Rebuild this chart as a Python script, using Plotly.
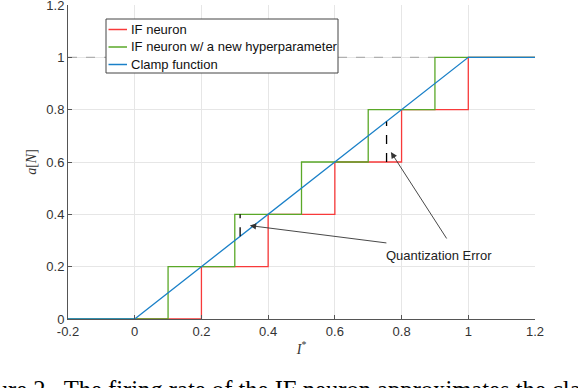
import plotly.graph_objects as go

# ---- data ----
if_x = [0, 0.2, 0.4, 0.6, 0.8, 1.0, 1.2]
if_y = [0, 0.2, 0.4, 0.6, 0.8, 1.0, 1.0]
hp_x = [-0.2, 0.1, 0.3, 0.5, 0.7, 0.9, 1.2]
hp_y = [0, 0.2, 0.4, 0.6, 0.8, 1.0, 1.0]
clamp_x = [-0.2, 0, 1, 1.2]
clamp_y = [0, 0, 1, 1]
ref_x = [-0.2, 0.9]
ref_y = [1, 1]
err1_x = [0.316, 0.316]
err1_y = [0.316, 0.4]
err2_x = [0.755, 0.755]
err2_y = [0.6, 0.755]
x_ticks = [-0.2, 0, 0.2, 0.4, 0.6, 0.8, 1.0, 1.2]
x_ticklabels = ["-0.2", "0", "0.2", "0.4", "0.6", "0.8", "1", "1.2"]
y_ticks = [0, 0.2, 0.4, 0.6, 0.8, 1.0, 1.2]
y_ticklabels = ["0", "0.2", "0.4", "0.6", "0.8", "1", "1.2"]
legend_names = ["IF neuron", "IF neuron w/ a new hyperparameter", "Clamp function"]

RED = "#F83A3A"
GREEN = "#5AA828"
BLUE = "#1A80C8"
colors = [RED, GREEN, BLUE]
SANS = "Liberation Sans, Arial, sans-serif"
SERIF = "Liberation Serif, Times New Roman, serif"

# plot-area geometry (pixels) used to place the hand-drawn legend box
L, R, T, B = 68, 535, 5, 319
W, H = R - L, B - T
def px(xp): return (xp - L) / W
def py(yp): return (B - yp) / H

fig = go.Figure()
fig.add_trace(go.Scatter(x=ref_x, y=ref_y, mode="lines", showlegend=False,
                         line=dict(color="#B0B0B0", width=1.2, dash="dash"), hoverinfo="skip"))
fig.add_trace(go.Scatter(x=if_x, y=if_y, mode="lines", name=legend_names[0], showlegend=False,
                         line=dict(color=RED, width=1.3, shape="hv")))
fig.add_trace(go.Scatter(x=hp_x, y=hp_y, mode="lines", name=legend_names[1], showlegend=False,
                         line=dict(color=GREEN, width=1.3, shape="hv")))
fig.add_trace(go.Scatter(x=clamp_x, y=clamp_y, mode="lines", name=legend_names[2], showlegend=False,
                         line=dict(color=BLUE, width=1.3)))
for ex, ey in [(err1_x, err1_y), (err2_x, err2_y)]:
    fig.add_trace(go.Scatter(x=ex, y=ey, mode="lines", showlegend=False,
                             line=dict(color="black", width=1.3, dash="dash"), hoverinfo="skip"))

arrow_common = dict(xref="x", yref="y", axref="x", ayref="y", text="", showarrow=True,
                    arrowhead=2, arrowsize=1.4, arrowwidth=0.9, arrowcolor="#333333")
fig.add_annotation(x=0.345, y=0.357, ax=0.759, ay=0.29, **arrow_common)
fig.add_annotation(x=0.768, y=0.638, ax=0.938, ay=0.302, **arrow_common)
fig.add_annotation(x=0.913, y=0.242, xref="x", yref="y", text="Quantization Error",
                   showarrow=False, font=dict(family=SANS, size=13, color="#222222"))

# legend (drawn by hand to match the compact box of the original)
fig.add_shape(type="rect", xref="paper", yref="paper",
              x0=px(106), x1=px(338), y0=py(73), y1=py(19),
              line=dict(color="#444444", width=1), fillcolor="white", layer="above")
row_y = [29.5, 47, 64.5]
for name, col, ry in zip(legend_names, colors, row_y):
    fig.add_shape(type="line", xref="paper", yref="paper",
                  x0=px(108.5), x1=px(127), y0=py(ry), y1=py(ry),
                  line=dict(color=col, width=1.5), layer="above")
    fig.add_annotation(x=px(129), y=py(ry), xref="paper", yref="paper",
                       xanchor="left", yanchor="middle", showarrow=False, text=name,
                       font=dict(family=SANS, size=13, color="#111111"))

# caption (cut off by the page edges in the reference)
fig.add_annotation(x=(-38 - L) / W, y=(B - 375) / H, xref="paper", yref="paper",
                   xanchor="left", yanchor="top", showarrow=False, borderpad=0,
                   text="Figure 2.  The firing rate of the IF neuron approximates the clamp function.",
                   font=dict(family=SERIF, size=24.6, color="black"))

fig.update_xaxes(range=[-0.2, 1.2], tickvals=x_ticks, ticktext=x_ticklabels,
                 showgrid=True, gridcolor="#E6E6E6", gridwidth=1, zeroline=False,
                 showline=True, linecolor="#555555", linewidth=1, automargin=False,
                 ticks="inside", ticklen=4, tickcolor="#555555", ticklabeloverflow="allow",
                 tickfont=dict(family=SANS, size=13, color="#333333"),
                 title=dict(text="<i>I</i><sup>*</sup>", font=dict(family=SERIF, size=14, color="#333333"),
                            standoff=6))
fig.update_yaxes(range=[0, 1.2], tickvals=y_ticks, ticktext=y_ticklabels,
                 showgrid=True, gridcolor="#E6E6E6", gridwidth=1, zeroline=False,
                 showline=True, linecolor="#555555", linewidth=1, automargin=False,
                 ticks="inside", ticklen=4, tickcolor="#555555", ticklabeloverflow="allow",
                 tickfont=dict(family=SANS, size=13, color="#333333"),
                 title=dict(text="<i>a</i>[<i>N</i>]", font=dict(family=SERIF, size=14, color="#333333"),
                            standoff=6))

fig.update_layout(
    width=578, height=388,
    margin=dict(l=L, r=578 - R, t=T, b=388 - B, autoexpand=False),
    plot_bgcolor="white", paper_bgcolor="white",
    showlegend=False,
)

fig.write_html("out.html", config={"displayModeBar": False},
               post_script="document.body.style.margin='0';document.body.style.overflow='hidden';")
